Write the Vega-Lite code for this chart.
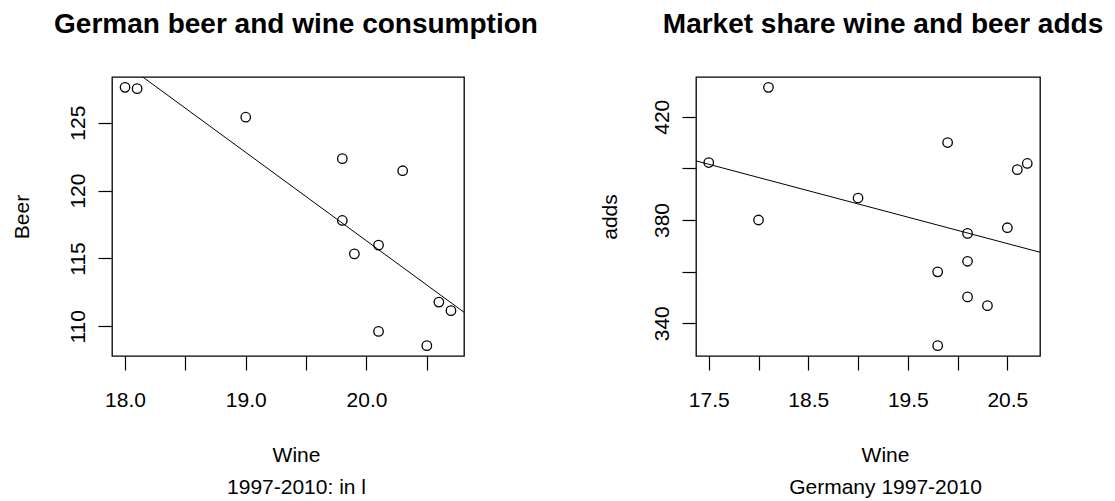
{
  "$schema": "https://vega.github.io/schema/vega-lite/v6.json",
  "background": "white",
  "autosize": {"type": "pad"},
  "padding": {"left": 10, "top": 10, "right": 5, "bottom": 0},
  "bounds": "flush",
  "spacing": 232,
  "config": {
    "font": "Liberation Sans",
    "view": {"stroke": "black", "strokeWidth": 1.3},
    "axis": {
      "grid": false,
      "domain": false,
      "ticks": true,
      "tickColor": "black",
      "tickSize": 14,
      "tickWidth": 1.2,
      "labelFont": "Liberation Sans",
      "labelFontSize": 21,
      "labelColor": "black",
      "titleFont": "Liberation Sans",
      "titleFontSize": 21,
      "titleFontWeight": "normal",
      "titleColor": "black",
      "labelOverlap": false,
      "labelFlush": false
    },
    "axisX": {"labelBaseline": "alphabetic", "labelPadding": 36, "titleBaseline": "alphabetic", "titleLineHeight": 32, "titleY": 105, "titleAlign": "center"},
    "axisY": {"labelAngle": -90, "labelAlign": "center", "labelBaseline": "alphabetic", "labelPadding": 14, "titleAngle": -90, "titleBaseline": "alphabetic", "titleAlign": "center"},
    "title": {"font": "Liberation Sans", "fontSize": 28, "fontWeight": "bold", "color": "black", "anchor": "middle", "baseline": "alphabetic", "offset": 38}
  },
  "hconcat": [
    {
      "width": 352,
      "height": 279,
      "title": {"text": "German beer and wine consumption", "dx": 8},
      "layer": [
        {
          "data": {"values": [
            {"wine": 18.0, "beer": 127.6},
            {"wine": 18.1, "beer": 127.5},
            {"wine": 19.0, "beer": 125.4},
            {"wine": 19.8, "beer": 122.35},
            {"wine": 20.3, "beer": 121.46},
            {"wine": 19.8, "beer": 117.8},
            {"wine": 20.1, "beer": 115.98},
            {"wine": 19.9, "beer": 115.34},
            {"wine": 20.6, "beer": 111.79},
            {"wine": 20.7, "beer": 111.16},
            {"wine": 20.1, "beer": 109.63},
            {"wine": 20.5, "beer": 108.58}
          ]},
          "mark": {"type": "point", "shape": "circle", "filled": false, "color": "black", "size": 90, "strokeWidth": 1.3, "opacity": 1},
          "encoding": {
            "x": {"field": "wine", "type": "quantitative",
                  "scale": {"domain": [17.892, 20.808], "nice": false, "zero": false},
                  "axis": {"values": [18, 18.5, 19, 19.5, 20, 20.5], "format": ".1f",
                           "labelExpr": "datum.value % 1 == 0 ? datum.label : ''",
                           "title": ["Wine", "1997-2010: in l"], "titleX": 184}},
            "y": {"field": "beer", "type": "quantitative",
                  "scale": {"domain": [107.82, 128.36], "nice": false, "zero": false},
                  "axis": {"values": [110, 115, 120, 125], "title": "Beer", "titleX": -84}}
          }
        },
        {
          "data": {"values": [
            {"wine": 17.892, "beer": 130.02},
            {"wine": 20.808, "beer": 111.04}
          ]},
          "mark": {"type": "line", "color": "black", "strokeWidth": 1, "clip": true},
          "encoding": {
            "x": {"field": "wine", "type": "quantitative"},
            "y": {"field": "beer", "type": "quantitative"}
          }
        }
      ]
    },
    {
      "width": 344,
      "height": 279,
      "title": {"text": "Market share wine and beer adds", "dx": 15},
      "layer": [
        {
          "data": {"values": [
            {"wine": 17.5, "adds": 402.25},
            {"wine": 18.1, "adds": 431.4},
            {"wine": 18.0, "adds": 380.0},
            {"wine": 19.0, "adds": 388.5},
            {"wine": 19.9, "adds": 410.0},
            {"wine": 19.8, "adds": 359.9},
            {"wine": 19.8, "adds": 331.3},
            {"wine": 20.1, "adds": 374.8},
            {"wine": 20.1, "adds": 364.0},
            {"wine": 20.1, "adds": 350.2},
            {"wine": 20.3, "adds": 346.8},
            {"wine": 20.5, "adds": 377.0},
            {"wine": 20.6, "adds": 399.5},
            {"wine": 20.7, "adds": 401.9}
          ]},
          "mark": {"type": "point", "shape": "circle", "filled": false, "color": "black", "size": 90, "strokeWidth": 1.3, "opacity": 1},
          "encoding": {
            "x": {"field": "wine", "type": "quantitative",
                  "scale": {"domain": [17.372, 20.828], "nice": false, "zero": false},
                  "axis": {"values": [17.5, 18, 18.5, 19, 19.5, 20, 20.5], "format": ".1f",
                           "labelExpr": "datum.value % 1 == 0.5 ? datum.label : ''",
                           "title": ["Wine", "Germany 1997-2010"], "titleX": 189}},
            "y": {"field": "adds", "type": "quantitative",
                  "scale": {"domain": [327.3, 435.4], "nice": false, "zero": false},
                  "axis": {"values": [340, 360, 380, 400, 420],
                           "labelExpr": "datum.value % 40 == 20 ? datum.label : ''",
                           "title": "adds", "titleX": -80}}
          }
        },
        {
          "data": {"values": [
            {"wine": 17.372, "adds": 402.9},
            {"wine": 20.828, "adds": 367.5}
          ]},
          "mark": {"type": "line", "color": "black", "strokeWidth": 1, "clip": true},
          "encoding": {
            "x": {"field": "wine", "type": "quantitative"},
            "y": {"field": "adds", "type": "quantitative"}
          }
        }
      ]
    }
  ]
}
